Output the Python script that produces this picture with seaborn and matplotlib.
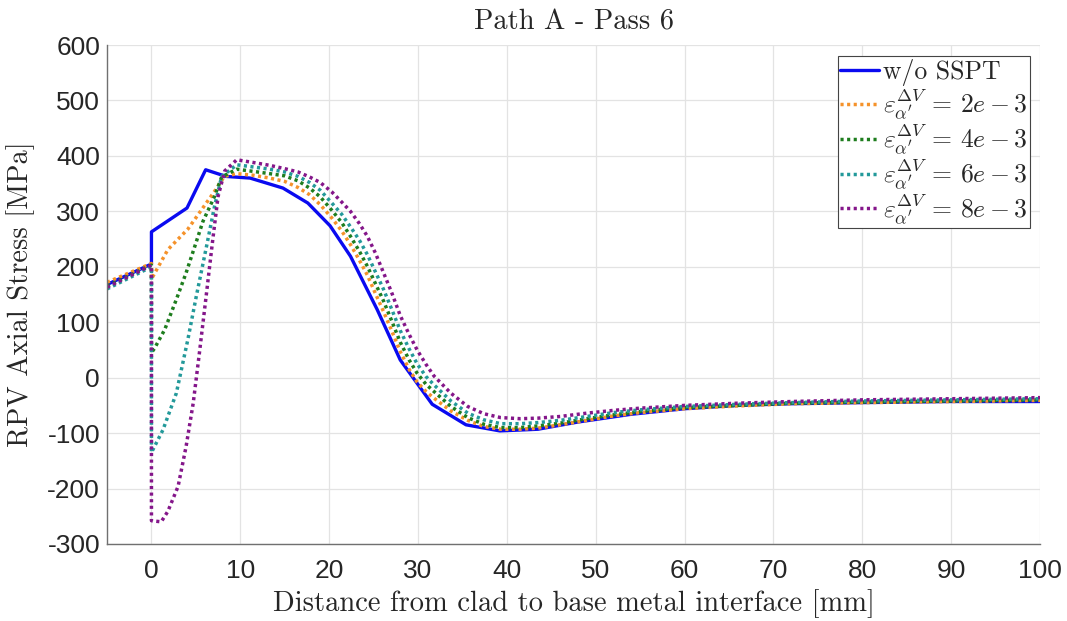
import numpy as np
import pandas as pd
import matplotlib
matplotlib.use("Agg")
import matplotlib.pyplot as plt
import seaborn as sns

# Distance from clad/base-metal interface [mm] and axial stress [MPa]
x_base = [-5, 0, 0, 4.0, 6.1, 8.4, 11.1, 14.8, 17.6, 20.1, 22.4, 25.4, 28.0, 31.6,
          35.4, 39.2, 43.5, 48, 54, 60, 66, 72, 80, 90, 100]
y_base = [168, 205, 263, 306, 375, 363, 360, 342, 315, 274, 219, 123, 32, -48,
          -85, -96, -93, -80, -66, -56, -50, -47, -45, -43, -43]

x_tail = [9.6, 11.5, 13.3, 15, 16.5, 17.8, 19, 20.3, 21.4, 22.4, 23.4, 24.3, 25.2,
          26.1, 27.0, 28.0, 29.0, 29.9, 30.9, 31.8, 33.7, 35.6, 37.4, 39.3, 41.5,
          43.5, 46, 49, 52, 55, 60, 66, 72, 80, 90, 100]

x_2e3 = [-5, 0, 0, 1.85, 4.1, 7.1, 8.2] + x_tail
y_2e3 = [172, 206, 178, 231, 268, 336, 363,
         368, 365, 360, 354, 343, 330, 312, 288, 265, 240, 212, 185, 152,
         120, 86, 47, 15, -8, -25, -37, -60, -77, -88, -93, -93,
         -91, -85, -77, -69, -63, -56, -51, -47, -45, -43, -41]

x_4e3 = [-5, 0, 0, 0.35, 1.5, 2.8, 3.9, 5.8, 7.1, 7.9] + x_tail
y_4e3 = [165, 203, 45, 53, 87, 141, 189, 282, 327, 362,
         376, 372, 368, 364, 355, 342, 326, 302, 280, 255, 228, 201, 170,
         139, 104, 64, 32, 8, -12, -25, -52, -72, -84, -90, -90,
         -87, -82, -74, -67, -61, -54, -50, -46, -44, -42, -40]

x_6e3 = [-5, 0, 0, 1.3, 2.8, 4.1, 5.05, 6.2, 7.1, 7.9] + x_tail
y_6e3 = [160, 200, -135, -94, -28, 69, 147, 237, 309, 363,
         384, 380, 376, 371, 363, 352, 338, 315, 295, 272, 248, 222, 191,
         160, 125, 85, 52, 25, 2, -13, -42, -64, -76, -83, -83,
         -81, -77, -70, -63, -58, -52, -48, -45, -42, -40, -38]

x_8e3 = [-5, 0, 0, 1.1, 1.85, 3.0, 3.9, 4.7, 5.4, 6.2, 6.9, 7.5, 8.25] + x_tail
y_8e3 = [163, 203, -258, -260, -241, -196, -124, -46, 45, 153, 249, 327, 373,
         393, 388, 383, 377, 371, 362, 352, 335, 317, 300, 278, 255, 225,
         190, 155, 112, 78, 50, 24, 3, -28, -52, -65, -72, -74,
         -73, -70, -64, -59, -55, -50, -46, -43, -40, -38, -36]

labels = ["w/o SSPT",
          r"$\varepsilon_{\alpha'}^{\Delta V}\,=\,2e-3$",
          r"$\varepsilon_{\alpha'}^{\Delta V}\,=\,4e-3$",
          r"$\varepsilon_{\alpha'}^{\Delta V}\,=\,6e-3$",
          r"$\varepsilon_{\alpha'}^{\Delta V}\,=\,8e-3$"]
colors = ["#0a0af0", "#f5922a", "#1e7d1e", "#23999a", "#84168a"]

series = [(x_base, y_base), (x_2e3, y_2e3), (x_4e3, y_4e3),
          (x_6e3, y_6e3), (x_8e3, y_8e3)]

sns.set_theme(style="white")
plt.rcParams["mathtext.fontset"] = "cm"
plt.rcParams["axes.unicode_minus"] = False

fig = plt.figure(figsize=(10.67, 6.21), dpi=100)
ax = fig.add_axes([0.1003, 0.124, 0.8744, 0.8035])

for i, ((xs, ys), lab, col) in enumerate(zip(series, labels, colors)):
    df = pd.DataFrame({"x": xs, "y": ys})
    if i == 0:
        sns.lineplot(data=df, x="x", y="y", estimator=None, sort=False, ax=ax,
                     color=col, lw=2.4, label=lab)
    else:
        sns.lineplot(data=df, x="x", y="y", estimator=None, sort=False, ax=ax,
                     color=col, lw=2.5, linestyle=(0, (0.9, 1.0)), label=lab)

ax.set_xlim(-5, 100)
ax.set_ylim(-300, 600)
ax.set_xticks(np.arange(0, 101, 10))
ax.set_yticks(np.arange(-300, 601, 100))
ax.grid(True, color="#e3e3e3", lw=0.9)
for s in ["top", "right"]:
    ax.spines[s].set_visible(False)
for s in ["left", "bottom"]:
    ax.spines[s].set_color("#707070")
    ax.spines[s].set_linewidth(1.0)
ax.tick_params(axis="both", direction="in", length=5, width=0.8, color="#707070",
               labelsize=19, labelcolor="#262626", pad=5)
ax.tick_params(axis="x", pad=11)
for t in ax.get_xticklabels() + ax.get_yticklabels():
    t.set_fontfamily("Liberation Sans")

ax.set_xlabel("Distance from clad to base metal interface [mm]",
              fontfamily="cmr10", fontsize=20.5, labelpad=4)
ax.set_ylabel("RPV Axial Stress [MPa]", fontfamily="cmr10", fontsize=20.5, labelpad=9)
ax.set_title("Path A - Pass 6", fontfamily="cmr10", fontsize=20.5, pad=11)

leg = ax.legend(loc="upper right", bbox_to_anchor=(0.989, 0.977), frameon=True,
                fancybox=False, edgecolor="#444444", framealpha=1,
                prop={"family": "cmr10", "size": 18.5}, handlelength=1.5,
                handletextpad=0.15, borderpad=0.1, labelspacing=0.0,
                borderaxespad=0.0)
leg.get_frame().set_linewidth(0.8)

fig.savefig("out.png", dpi=100)
